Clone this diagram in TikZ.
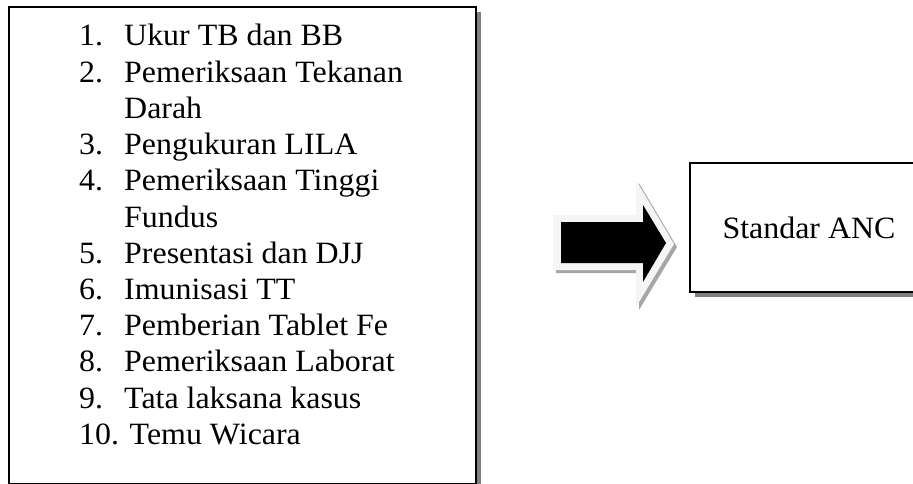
\documentclass[tikz,border=0pt]{standalone}
\usepackage{fontspec}
\setmainfont{Liberation Serif}[FakeStretch=1.03]
\begin{document}
\begin{tikzpicture}[x=1pt,y=-1pt,
  boxline/.style={draw=black,line width=2.2pt,fill=white},
  boxshadow/.style={fill=black!50,draw=none},
  numtext/.style={anchor=base west,inner sep=0pt,font=\fontsize{31}{36}\selectfont},
  itemtext/.style={anchor=base west,inner sep=0pt,font=\fontsize{31}{36}\selectfont}]
\useasboundingbox (0,0) rectangle (913,484);
% left box
\fill[boxshadow] (14,12) rectangle (481,492);
\node[boxline,rectangle,inner sep=0pt,minimum width=467pt,minimum height=477pt,anchor=north west] (listbox) at (8,6) {};
% right box
\fill[boxshadow] (695,168) rectangle (925,297);
\node[boxline,rectangle,inner sep=0pt,minimum width=236pt,minimum height=129pt,anchor=north west] (ancbox) at (689,162) {};
\node[itemtext,anchor=base] (anc) at (809,238) {Standar ANC};
% list
\def\lsp{36.2}
\node[numtext] (n1) at (79,46) {1.};
\node[itemtext] (t1) at (124,46) {Ukur TB dan BB};
\node[numtext] (n2) at (79,46+1*\lsp) {2.};
\node[itemtext] (t2) at (124,46+1*\lsp) {Pemeriksaan Tekanan};
\node[itemtext] (t2b) at (124,46+2*\lsp) {Darah};
\node[numtext] (n3) at (79,46+3*\lsp) {3.};
\node[itemtext] (t3) at (124,46+3*\lsp) {Pengukuran LILA};
\node[numtext] (n4) at (79,46+4*\lsp) {4.};
\node[itemtext] (t4) at (124,46+4*\lsp) {Pemeriksaan Tinggi};
\node[itemtext] (t4b) at (124,46+5*\lsp) {Fundus};
\node[numtext] (n5) at (79,46+6*\lsp) {5.};
\node[itemtext] (t5) at (124,46+6*\lsp) {Presentasi dan DJJ};
\node[numtext] (n6) at (79,46+7*\lsp) {6.};
\node[itemtext] (t6) at (124,46+7*\lsp) {Imunisasi TT};
\node[numtext] (n7) at (79,46+8*\lsp) {7.};
\node[itemtext] (t7) at (124,46+8*\lsp) {Pemberian Tablet Fe};
\node[numtext] (n8) at (79,46+9*\lsp) {8.};
\node[itemtext] (t8) at (124,46+9*\lsp) {Pemeriksaan Laborat};
\node[numtext] (n9) at (79,46+10*\lsp) {9.};
\node[itemtext] (t9) at (124,46+10*\lsp) {Tata laksana kasus};
\node[numtext] (n10) at (79,46+11*\lsp) {10. Temu Wicara};
% arrow
\fill[black!35] (556,218) -- (639,218) -- (639,183) -- (677,247) -- (639,310) -- (639,273) -- (556,273) -- cycle;
\fill[black!4] (553,215) -- (636,215) -- (636,180) -- (674,244) -- (636,307) -- (636,270) -- (553,270) -- cycle;
\fill[black] (561,222) -- (643,222) -- (643,205) -- (666,243) -- (643,282) -- (643,263) -- (561,263) -- cycle;
\end{tikzpicture}
\end{document}
